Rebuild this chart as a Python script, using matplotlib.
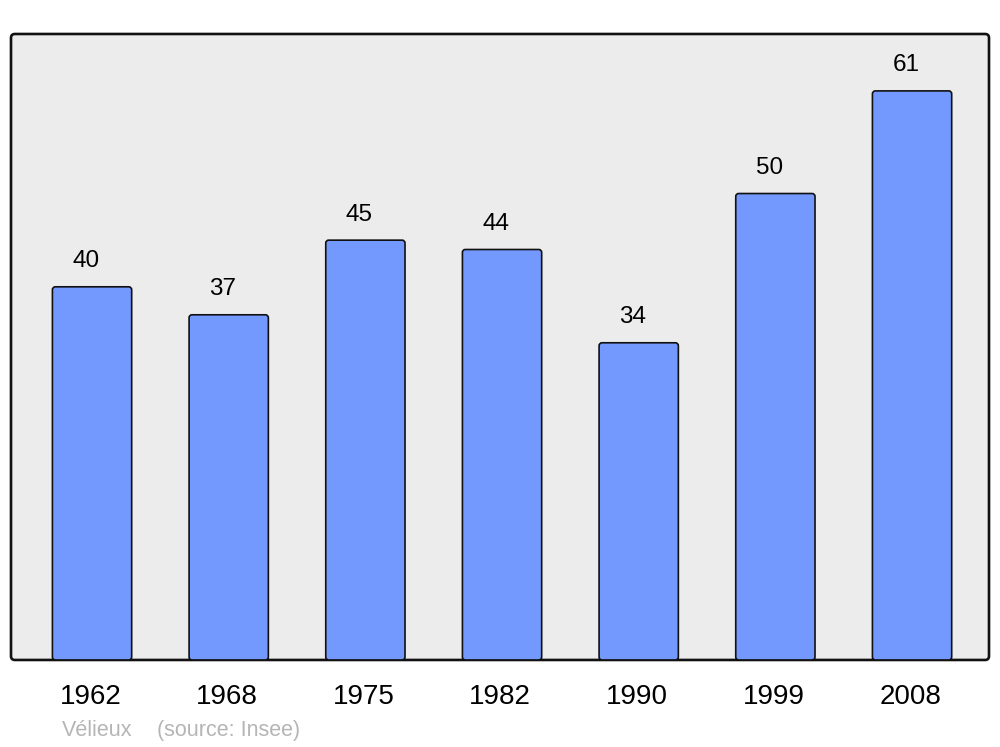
import matplotlib.pyplot as plt
from matplotlib.patches import FancyBboxPatch

plt.rcParams['font.family'] = ['Liberation Sans', 'DejaVu Sans']

# data
years = ['1962', '1968', '1975', '1982', '1990', '1999', '2008']
population = [40, 37, 45, 44, 34, 50, 61]

BAR_COLOR = '#7399ff'
BG_COLOR = '#ececec'

fig = plt.figure(figsize=(10, 7.47), dpi=100)
ax = fig.add_axes([0.011, 0.1165, 0.978, 0.838])
ax.set_xlim(-0.593, 6.563)
ax.set_ylim(0, 67.1)
ax.patch.set_visible(False)
for s in ax.spines.values():
    s.set_visible(False)

# rounded frame
frame = FancyBboxPatch((0, 0), 1, 1, boxstyle="round,pad=0,rounding_size=0.004",
                       mutation_aspect=978 / 626, transform=ax.transAxes,
                       facecolor=BG_COLOR, edgecolor='#111111', linewidth=1.9,
                       zorder=0, clip_on=False)
ax.add_patch(frame)

x = range(len(years))
bars = ax.bar(x, population, width=0.58, color=BAR_COLOR)
# swap plain rectangles for rounded ones
x_px = 978 / (6.563 + 0.593)
y_px = 626 / 67.1
for b in bars:
    b.set_visible(False)
    p = FancyBboxPatch((b.get_x(), b.get_y()), b.get_width(), b.get_height(),
                       boxstyle="round,pad=0,rounding_size=%f" % (3 / x_px),
                       mutation_aspect=x_px / y_px,
                       facecolor=BAR_COLOR, edgecolor='#111111', linewidth=1.2,
                       zorder=2)
    ax.add_patch(p)

for xi, v in zip(x, population):
    ax.annotate(str(v), (xi, v), xytext=(-4.3, 14), textcoords='offset points',
                ha='center', va='baseline', fontsize=17.5)

ax.set_xticks([xi - 0.013 for xi in x])
ax.set_xticklabels(years, fontsize=20)
ax.tick_params(axis='x', length=0, pad=17)
ax.set_yticks([])

fig.text(0.062, 0.008, 'Vélieux', color='#b5b5b5', fontsize=15.5, va='bottom')
fig.text(0.157, 0.008, '(source: Insee)', color='#b5b5b5', fontsize=15.5, va='bottom')

fig.savefig('out.png', dpi=100)
